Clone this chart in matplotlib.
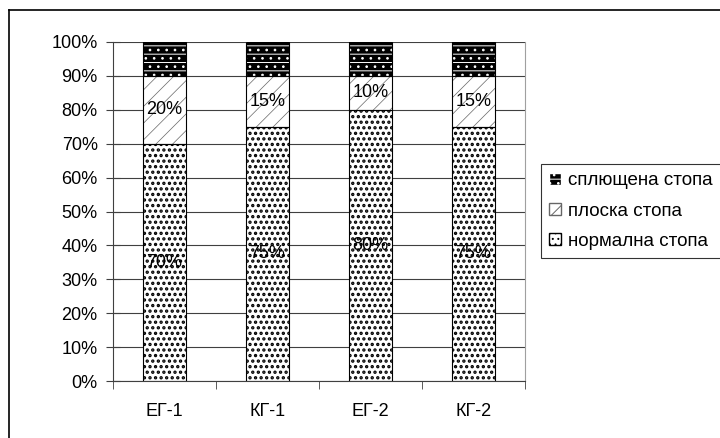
import numpy as np
import matplotlib
matplotlib.use("Agg")
import matplotlib.pyplot as plt
from matplotlib.patches import Patch
from matplotlib.ticker import FixedLocator

plt.rcParams["font.family"] = ["Liberation Sans", "DejaVu Sans"]

groups = ["ЕГ-1", "КГ-1", "ЕГ-2", "КГ-2"]
normal = [70, 75, 80, 75]     # нормална стопа
flat = [20, 15, 10, 15]       # плоска стопа
flattened = [10, 10, 10, 10]  # сплющена стопа
series_names = ["сплющена стопа", "плоска стопа", "нормална стопа"]

FS = 13

fig = plt.figure(figsize=(7.2, 4.38), dpi=100)
ax = fig.add_axes([113 / 720, 1 - 381 / 438, 412 / 720, 339 / 438])

x = np.arange(len(groups))
w = 0.41
bot2 = np.array(normal) + np.array(flat)

# normal: black dots on white
plt.rcParams["hatch.linewidth"] = 1.6
ax.bar(x, normal, w, color="white", edgecolor="black", hatch="...", lw=0, zorder=2)
# flat: sparse thin slashes
plt.rcParams["hatch.linewidth"] = 0.5
ax.bar(x, flat, w, bottom=normal, color="white", edgecolor="#666666", hatch="//", lw=0, zorder=2)
# flattened: black with white dashes
plt.rcParams["hatch.linewidth"] = 0.7
ax.bar(x, flattened, w, bottom=bot2, color="black", edgecolor="white", hatch="--..", lw=0, zorder=2)
# outlines
for b, h in [(np.zeros(4), normal), (normal, flat), (bot2, flattened)]:
    ax.bar(x, h, w, bottom=b, fill=False, edgecolor="black", lw=0.8, zorder=3)

for i in range(len(groups)):
    ax.text(x[i], normal[i] / 2, f"{normal[i]}%", ha="center", va="center", fontsize=FS, zorder=4)
    ax.text(x[i], normal[i] + flat[i] / 2, f"{flat[i]}%", ha="center", va="center", fontsize=FS, zorder=4)

ax.set_xlim(-0.5, len(groups) - 0.5)
ax.set_ylim(0, 100)
ax.set_yticks(np.arange(0, 101, 10))
ax.set_yticklabels([f"{v}%" for v in range(0, 101, 10)], fontsize=FS)
ax.set_xticks(x)
ax.set_xticklabels(groups, fontsize=FS)
ax.tick_params(axis="x", length=0, pad=16)
ax.xaxis.set_minor_locator(FixedLocator(np.arange(-0.5, len(groups), 1)))
ax.tick_params(axis="x", which="minor", length=6, direction="out", color="#404040")
ax.tick_params(axis="y", length=10, direction="inout", color="#404040", pad=6)
ax.grid(axis="y", color="#404040", lw=0.8, zorder=1)
ax.set_axisbelow(True)
ax.spines["right"].set_color("#a0a0a0")
ax.spines["left"].set_color("#404040")
ax.spines["bottom"].set_color("#404040")
ax.spines["top"].set_visible(False)

handles = [
    Patch(facecolor="black", edgecolor="white", hatch="--.."),
    Patch(facecolor="white", edgecolor="#666666", hatch="//"),
    Patch(facecolor="white", edgecolor="black", hatch="..."),
]
leg = fig.legend(handles, series_names, loc="upper left", bbox_to_anchor=(541 / 720, 1 - 164 / 438),
                 frameon=True, fancybox=False, fontsize=13.5, handlelength=0.6, handleheight=0.6,
                 handletextpad=0.4, labelspacing=0.7, borderpad=0.45, borderaxespad=0)
leg.get_frame().set_edgecolor("black")
leg.get_frame().set_linewidth(0.8)

# outer chart border
fig.add_artist(plt.Line2D([9 / 720, 9 / 720], [0, 1 - 10 / 438], color="black", lw=1.2))
fig.add_artist(plt.Line2D([9 / 720, 1], [1 - 10 / 438, 1 - 10 / 438], color="black", lw=1.2))

fig.savefig("out.png", dpi=100)
